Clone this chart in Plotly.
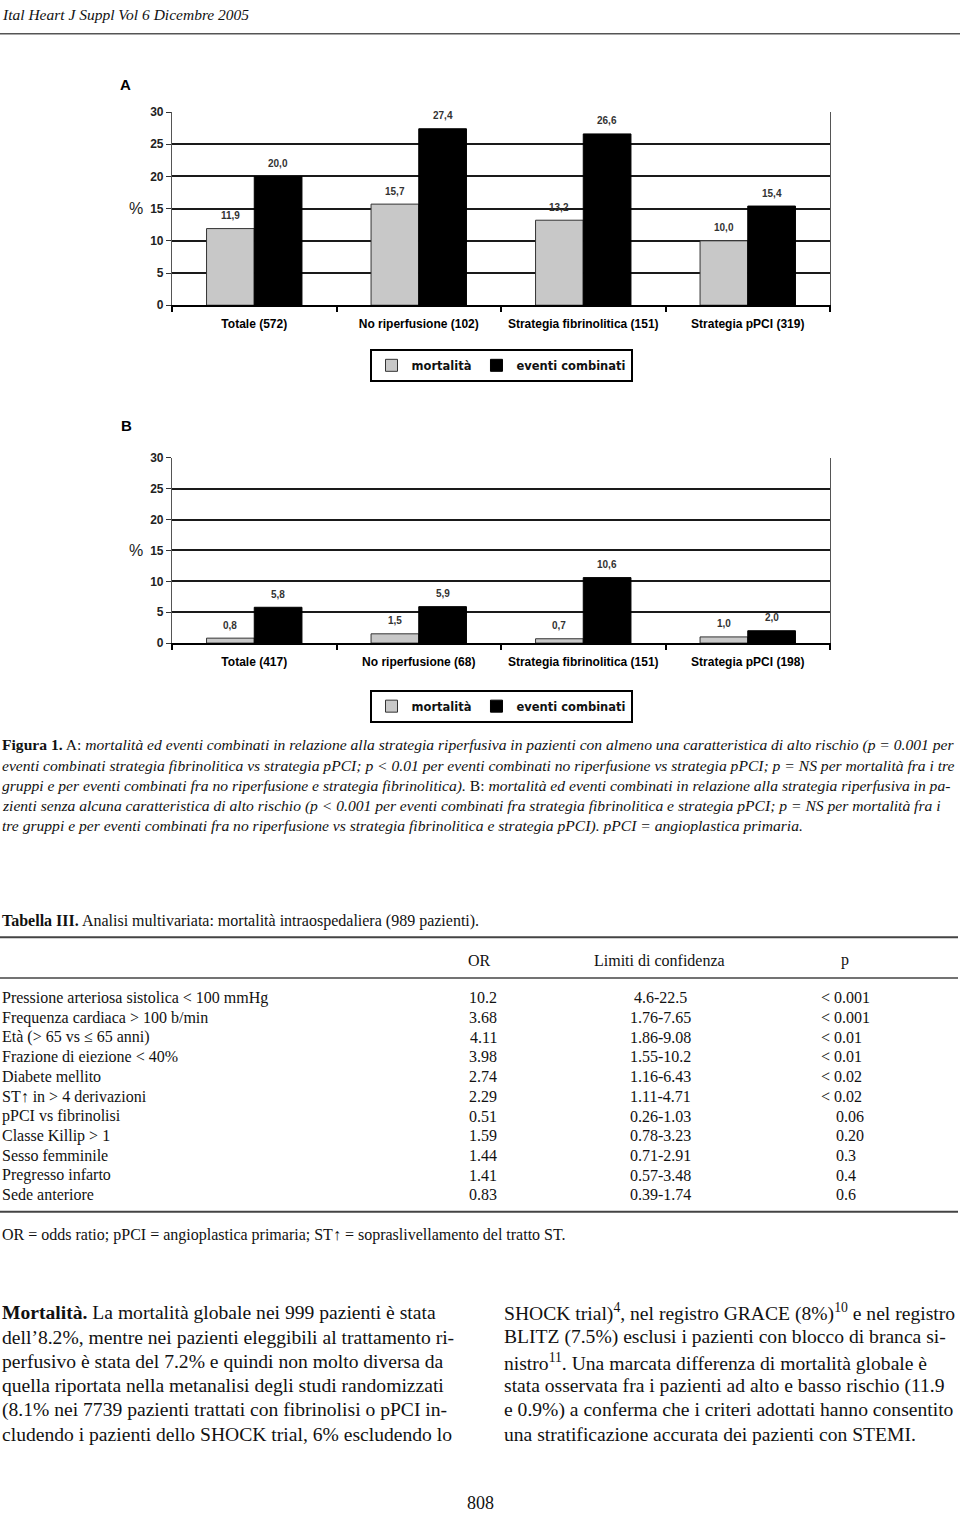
import plotly.graph_objects as go

# ---------------- data ----------------
categories_A = ["Totale (572)", "No riperfusione (102)", "Strategia fibrinolitica (151)", "Strategia pPCI (319)"]
mortalita_A = [11.9, 15.7, 13.2, 10.0]
eventi_A = [20.0, 27.4, 26.6, 15.4]

categories_B = ["Totale (417)", "No riperfusione (68)", "Strategia fibrinolitica (151)", "Strategia pPCI (198)"]
mortalita_B = [0.8, 1.5, 0.7, 1.0]
eventi_B = [5.8, 5.9, 10.6, 2.0]

y_ticks = [0, 5, 10, 15, 20, 25, 30]

table_labels = [
    "Pressione arteriosa sistolica &lt; 100 mmHg",
    "Frequenza cardiaca &gt; 100 b/min",
    "Età (&gt; 65 vs ≤ 65 anni)",
    "Frazione di eiezione &lt; 40%",
    "Diabete mellito",
    "ST↑ in &gt; 4 derivazioni",
    "pPCI vs fibrinolisi",
    "Classe Killip &gt; 1",
    "Sesso femminile",
    "Pregresso infarto",
    "Sede anteriore",
]
table_or = ["10.2", "3.68", "4.11", "3.98", "2.74", "2.29", "0.51", "1.59", "1.44", "1.41", "0.83"]
table_ci = ["4.6-22.5", "1.76-7.65", "1.86-9.08", "1.55-10.2", "1.16-6.43", "1.11-4.71",
            "0.26-1.03", "0.78-3.23", "0.71-2.91", "0.57-3.48", "0.39-1.74"]
table_p = ["&lt; 0.001", "&lt; 0.001", "&lt; 0.01", "&lt; 0.01", "&lt; 0.02", "&lt; 0.02",
           "0.06", "0.20", "0.3", "0.4", "0.6"]

caption_lines = [
    "<b>Figura 1.</b> A: <i>mortalità ed eventi combinati in relazione alla strategia riperfusiva in pazienti con almeno una caratteristica di alto rischio (p = 0.001 per</i>",
    "<i>eventi combinati strategia fibrinolitica vs strategia pPCI; p &lt; 0.01 per eventi combinati no riperfusione vs strategia pPCI; p = NS per mortalità fra i tre</i>",
    "<i>gruppi e per eventi combinati fra no riperfusione e strategia fibrinolitica).</i> B: <i>mortalità ed eventi combinati in relazione alla strategia riperfusiva in pa-</i>",
    "<i>zienti senza alcuna caratteristica di alto rischio (p &lt; 0.001 per eventi combinati fra strategia fibrinolitica e strategia pPCI; p = NS per mortalità fra i</i>",
    "<i>tre gruppi e per eventi combinati fra no riperfusione vs strategia fibrinolitica e strategia pPCI). pPCI = angioplastica primaria.</i>",
]

body_left = [
    "<b>Mortalità.</b> La mortalità globale nei 999 pazienti è stata",
    "dell’8.2%, mentre nei pazienti eleggibili al trattamento ri-",
    "perfusivo è stata del 7.2% e quindi non molto diversa da",
    "quella riportata nella metanalisi degli studi randomizzati",
    "(8.1% nei 7739 pazienti trattati con fibrinolisi o pPCI in-",
    "cludendo i pazienti dello SHOCK trial, 6% escludendo lo",
]
body_right = [
    "SHOCK trial)<sup>4</sup>, nel registro GRACE (8%)<sup>10</sup> e nel registro",
    "BLITZ (7.5%) esclusi i pazienti con blocco di branca si-",
    "nistro<sup>11</sup>. Una marcata differenza di mortalità globale è",
    "stata osservata fra i pazienti ad alto e basso rischio (11.9",
    "e 0.9%) a conferma che i criteri adottati hanno consentito",
    "una stratificazione accurata dei pazienti con STEMI.",
]

# ---------------- helpers ----------------
W, H = 960, 1520
def px(x):
    return x / W
def py(y):
    return 1 - y / H

SANS = "Liberation Sans, Arial, sans-serif"
SERIF = "Liberation Serif, Times New Roman, serif"
GRAY = "#c8c8c8"

fig = go.Figure()

def fmt(v):
    return f"{v:.1f}".replace(".", ",")

# bars
fig.add_trace(go.Bar(x=categories_A, y=mortalita_A, name="mortalità", marker=dict(color=GRAY, line=dict(color="#333", width=1)),
                     xaxis="x", yaxis="y", legend="legend"))
fig.add_trace(go.Bar(x=categories_A, y=eventi_A, name="eventi combinati", marker=dict(color="#000", line=dict(color="#000", width=1)),
                     xaxis="x", yaxis="y", legend="legend"))
fig.add_trace(go.Bar(x=categories_B, y=mortalita_B, name="mortalità", marker=dict(color=GRAY, line=dict(color="#333", width=1)),
                     xaxis="x2", yaxis="y2", legend="legend2"))
fig.add_trace(go.Bar(x=categories_B, y=eventi_B, name="eventi combinati", marker=dict(color="#000", line=dict(color="#000", width=1)),
                     xaxis="x2", yaxis="y2", legend="legend2"))

ann = []
# bar value labels
for cats, vals, xr, yr, sh in [
    (categories_A, mortalita_A, "x", "y", -24),
    (categories_A, eventi_A, "x", "y", 24),
    (categories_B, mortalita_B, "x2", "y2", -24),
    (categories_B, eventi_B, "x2", "y2", 24),
]:
    for c, v in zip(cats, vals):
        ann.append(dict(x=c, y=v, xref=xr, yref=yr, text="<b>" + fmt(v) + "</b>", showarrow=False, xshift=sh, yshift=13,
                        font=dict(family=SANS, size=10, color="#333")))

def txt(s, x, y, size, family=SERIF, xanchor="left", color="#111"):
    ann.append(dict(x=px(x), y=py(y), xref="paper", yref="paper", text=s, showarrow=False,
                    xanchor=xanchor, yanchor="middle", font=dict(family=family, size=size, color=color)))

# panel letters and % labels
txt("<b>A</b>", 118, 78, 15, SANS, "left", "#000")
txt("<b>B</b>", 119, 422, 15, SANS, "left", "#000")
ann.append(dict(x=px(136), y=15, xref="paper", yref="y", text="%", showarrow=False, xanchor="center",
                font=dict(family=SANS, size=16, color="#222")))
ann.append(dict(x=px(136), y=15, xref="paper", yref="y2", text="%", showarrow=False, xanchor="center",
                font=dict(family=SANS, size=16, color="#222")))

# header
txt("<i>Ital Heart J Suppl Vol 6 Dicembre 2005</i>", 0, 8, 15.5)

# caption
cap_y = [745, 765.5, 786, 806, 826.5]
for s, y in zip(caption_lines, cap_y):
    txt(s, 0, y, 15.6)

# table
txt("<b>Tabella III.</b> Analisi multivariata: mortalità intraospedaliera (989 pazienti).", 0, 923, 16)
txt("OR", 479, 962, 16, SERIF, "center")
txt("Limiti di confidenza", 659, 962, 16, SERIF, "center")
txt("p", 845, 962, 16, SERIF, "center")
for i, (lab, o, ci, p) in enumerate(zip(table_labels, table_or, table_ci, table_p)):
    y = 1000 + i * 19.9
    txt(lab, 0, y, 16)
    txt(o, 499, y, 16, SERIF, "right")
    txt(ci, 660, y, 16, SERIF, "center")
    if p.startswith("&lt;"):
        txt(p, 819, y, 16)
    else:
        txt(p, 834, y, 16)
txt("OR = odds ratio; pPCI = angioplastica primaria; ST↑ = sopraslivellamento del tratto ST.", 0, 1239, 16)

# body text
for i, (l, r) in enumerate(zip(body_left, body_right)):
    y = 1318 + i * 24.6
    txt(l, 0, y, 19.6)
    txt(r, 502, y, 19.6)

txt("808", 480, 1510, 18, SERIF, "center")

shapes = [
    dict(type="line", xref="paper", yref="paper", x0=0, x1=1, y0=py(27), y1=py(27), line=dict(color="#555", width=1.5)),
    dict(type="line", xref="paper", yref="paper", x0=0, x1=px(958), y0=py(939), y1=py(939), line=dict(color="#444", width=2)),
    dict(type="line", xref="paper", yref="paper", x0=0, x1=px(958), y0=py(980), y1=py(980), line=dict(color="#444", width=1.5)),
    dict(type="line", xref="paper", yref="paper", x0=0, x1=px(958), y0=py(1216), y1=py(1216), line=dict(color="#444", width=2)),
]

xdom = [px(172), px(830)]
common_x = dict(showline=True, linecolor="#000", linewidth=1.5, ticks="outside", tickson="boundaries", ticklen=5,
                tickcolor="#000", tickwidth=1.5, showgrid=False, ticklabelstandoff=7,
                tickfont=dict(family=SANS, size=12, color="#000", weight="bold"), fixedrange=True)
common_y = dict(range=[0, 30], tickvals=y_ticks, showgrid=True, gridcolor="#1a1a1a", gridwidth=1.6,
                showline=True, linecolor="#555", linewidth=1.2, mirror=True, ticks="outside", ticklen=5,
                tickcolor="#333", tickfont=dict(family=SANS, size=12, color="#222", weight="bold"),
                zeroline=False, fixedrange=True)

legend_common = dict(orientation="h", xanchor="center", x=px(501), yanchor="top", bordercolor="#000", borderwidth=2,
                     bgcolor="#fff", font=dict(family="DejaVu Sans, sans-serif", size=11.5, color="#111", weight="bold"),
                     itemwidth=30, tracegroupgap=0)

fig.update_layout(
    width=W, height=H, margin=dict(l=0, r=0, t=0, b=0),
    paper_bgcolor="#fff", plot_bgcolor="#fff",
    barmode="group", bargap=0.42, bargroupgap=0,
    xaxis=dict(domain=xdom, anchor="y", **common_x),
    yaxis=dict(domain=[py(301), py(106)], anchor="x", **common_y),
    xaxis2=dict(domain=xdom, anchor="y2", **common_x),
    yaxis2=dict(domain=[py(642), py(455)], anchor="x2", **common_y),
    legend=dict(y=py(345), **legend_common),
    legend2=dict(y=py(689), **legend_common),
    annotations=ann, shapes=shapes, showlegend=True,
)

fig.write_html("out.html")
